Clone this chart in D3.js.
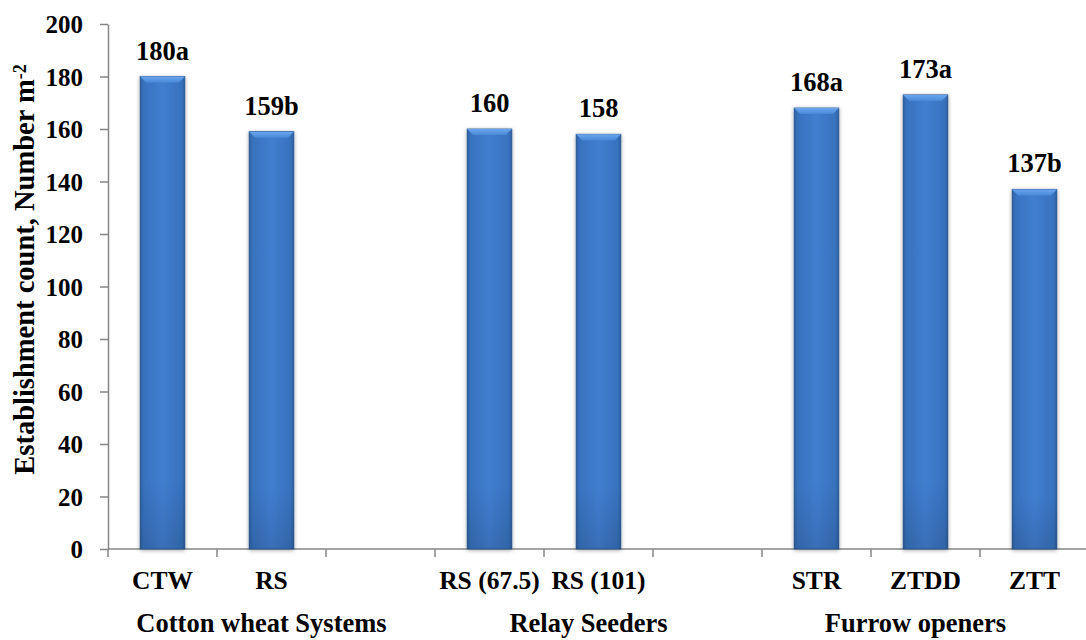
<!DOCTYPE html>
<html>
<head>
<meta charset="utf-8">
<script src="https://cdn.jsdelivr.net/npm/d3@7"></script>
<style>
  html, body { margin: 0; padding: 0; background: #fff; }
  svg { display: block; }
  text { font-family: "Liberation Serif", "Times New Roman", serif; font-weight: bold; fill: #000; }
</style>
</head>
<body>
<svg id="chart" width="1086" height="640"></svg>
<script>
// Establishment count by treatment
const categories = ["CTW", "RS", "RS (67.5)", "RS (101)", "STR", "ZTDD", "ZTT"];
const values = [180, 159, 160, 158, 168, 173, 137];
const letters = ["a", "b", "", "", "a", "a", "b"];
const groupOf = [0, 0, 1, 1, 2, 2, 2];
const groups = ["Cotton wheat Systems", "Relay Seeders", "Furrow openers"];
const yTicks = [0, 20, 40, 60, 80, 100, 120, 140, 160, 180, 200];

const svg = d3.select("#chart");
const W = 1086, H = 640;
const margin = { left: 108, top: 24, bottom: 91 };
const plotRight = 1089;

// slots: categories with an empty slot between groups
const slots = [];
categories.forEach((c, i) => {
  if (i > 0 && groupOf[i] !== groupOf[i - 1]) slots.push("__gap" + groupOf[i]);
  slots.push(c);
});

const x = d3.scaleBand().domain(slots).range([margin.left, plotRight]).padding(0);
const y = d3.scaleLinear().domain([0, 200]).range([H - margin.bottom, margin.top]);
const barW = x.bandwidth() * 0.41;

const defs = svg.append("defs");
const grad = defs.append("linearGradient").attr("id", "barFill")
  .attr("x1", "0%").attr("x2", "100%").attr("y1", "0%").attr("y2", "0%");
[["0%", "#2b5c9c"], ["7%", "#3872be"], ["50%", "#417ed0"], ["93%", "#3872be"], ["100%", "#2b5c9c"]]
  .forEach(([o, c]) => grad.append("stop").attr("offset", o).attr("stop-color", c));
const vgrad = defs.append("linearGradient").attr("id", "barShade")
  .attr("x1", "0%").attr("x2", "0%").attr("y1", "0%").attr("y2", "100%");
[["0%", "#ffffff", 0.0], ["85%", "#000000", 0.0], ["100%", "#000000", 0.12]]
  .forEach(([o, c, a]) => vgrad.append("stop").attr("offset", o).attr("stop-color", c).attr("stop-opacity", a));
const topGrad = defs.append("linearGradient").attr("id", "bevel")
  .attr("x1", "0%").attr("x2", "0%").attr("y1", "0%").attr("y2", "100%");
[["0%", "#6aa6ee"], ["100%", "#4a89d8"]]
  .forEach(([o, c]) => topGrad.append("stop").attr("offset", o).attr("stop-color", c));
const shadow = defs.append("filter").attr("id", "shadow")
  .attr("x", "-30%").attr("y", "-10%").attr("width", "160%").attr("height", "120%");
shadow.append("feGaussianBlur").attr("in", "SourceAlpha").attr("stdDeviation", 2.2).attr("result", "b");
shadow.append("feOffset").attr("in", "b").attr("dx", 0).attr("dy", 1).attr("result", "o");
shadow.append("feComponentTransfer").attr("in", "o").attr("result", "s")
  .append("feFuncA").attr("type", "linear").attr("slope", 0.35);
const merge = shadow.append("feMerge");
merge.append("feMergeNode").attr("in", "s");
merge.append("feMergeNode").attr("in", "SourceGraphic");

// axes
const axisColor = "#868686";
const yAxis = svg.append("g").attr("transform", `translate(${margin.left},0)`)
  .call(d3.axisLeft(y).tickValues(yTicks).tickSize(8).tickPadding(17).tickSizeOuter(0));
yAxis.attr("font-family", null).attr("font-size", null);
yAxis.select(".domain").attr("stroke", axisColor).attr("stroke-width", 1.5);
yAxis.selectAll(".tick line").attr("stroke", axisColor).attr("stroke-width", 1.5);
yAxis.selectAll(".tick text").attr("font-size", 25).attr("dy", "0.34em");

const xAxisG = svg.append("g");
xAxisG.append("line").attr("x1", margin.left).attr("x2", plotRight)
  .attr("y1", y(0)).attr("y2", y(0)).attr("stroke", axisColor).attr("stroke-width", 1.5);
const edges = slots.map(s => x(s)).concat([x(slots[slots.length - 1]) + x.bandwidth()]);
xAxisG.selectAll("line.tk").data(edges).join("line").attr("class", "tk")
  .attr("x1", d => d).attr("x2", d => d).attr("y1", y(0)).attr("y2", y(0) + 8)
  .attr("stroke", axisColor).attr("stroke-width", 1.5);

// bars
const data = categories.map((c, i) => ({ c, v: values[i], l: letters[i], g: groupOf[i] }));
const cx = d => x(d.c) + x.bandwidth() / 2;
const bars = svg.append("g").selectAll("g.bar").data(data).join("g").attr("class", "bar");
bars.append("rect")
  .attr("x", d => cx(d) - barW / 2).attr("y", d => y(d.v))
  .attr("width", barW).attr("height", d => y(0) - y(d.v))
  .attr("fill", "url(#barFill)").attr("stroke", "#2a5893").attr("stroke-width", 0.8)
  .attr("filter", "url(#shadow)");
bars.append("rect")
  .attr("x", d => cx(d) - barW / 2).attr("y", d => y(d.v))
  .attr("width", barW).attr("height", d => y(0) - y(d.v))
  .attr("fill", "url(#barShade)");
const bev = 6;
bars.append("path")
  .attr("d", d => {
    const l = cx(d) - barW / 2, r = cx(d) + barW / 2, t = y(d.v);
    return `M${l},${t}L${r},${t}L${r - bev},${t + bev}L${l + bev},${t + bev}Z`;
  })
  .attr("fill", "url(#bevel)");

// value labels
svg.append("g").selectAll("text").data(data).join("text")
  .attr("x", cx).attr("y", d => y(d.v) - 17)
  .attr("text-anchor", "middle").attr("font-size", 26.5)
  .text(d => d.v + d.l);

// category labels
svg.append("g").selectAll("text").data(data).join("text")
  .attr("x", cx).attr("y", y(0) + 40)
  .attr("text-anchor", "middle").attr("font-size", 25.5)
  .text(d => d.c);

// group labels
const groupAnchor = groups.map((g, gi) => {
  const members = data.filter(d => d.g === gi);
  return cx(members[1]) - 10;
});
svg.append("g").selectAll("text").data(groups).join("text")
  .attr("x", (d, i) => groupAnchor[i]).attr("y", y(0) + 83)
  .attr("text-anchor", "middle").attr("font-size", 26.5)
  .text(d => d);

// y-axis title
const yt = svg.append("text")
  .attr("transform", `translate(34,${(y(0) + y(200)) / 2 - 17}) rotate(-90)`)
  .attr("text-anchor", "middle").attr("font-size", 28.5);
yt.append("tspan").text("Establishment count, Number m");
yt.append("tspan").attr("dy", "-0.45em").attr("font-size", 18).text("-2");
</script>
</body>
</html>
